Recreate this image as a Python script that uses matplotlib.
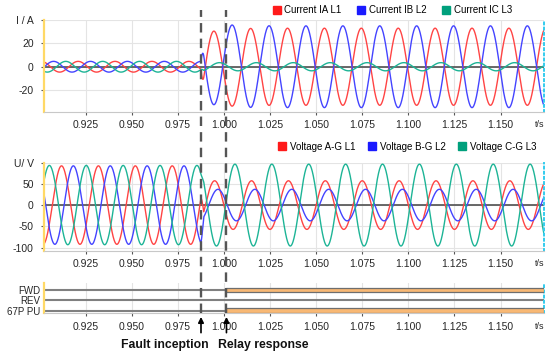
import numpy as np
import matplotlib
matplotlib.use('Agg')
import matplotlib.pyplot as plt
from matplotlib.lines import Line2D
from matplotlib.transforms import blended_transform_factory

plt.rcParams['font.family'] = ['Liberation Sans', 'DejaVu Sans']

# Time window and events (s)
t_start, t_end = 0.9025, 1.1735
t_fault = 0.9876
t_relay = 1.0014
freq = 50.0
blend = 0.0015  # transition at fault inception

# Currents (A): amplitude and time of a peak for IA, IB, IC
cur_names = ['Current IA L1', 'Current IB L2', 'Current IC L3']
cur_pre_amp = [4.6, 4.6, 4.6]
cur_pre_peak = [0.9810, 0.9877, 0.9943]
cur_post_amp = [33.0, 35.0, 3.5]
cur_post_peak = [1.0145, 1.0045, 1.0176]
cur_post_dc = [-6.0, 6.0, 0.0]
dc_tau = 0.008

# Voltages (V)
volt_names = ['Voltage A-G L1', 'Voltage B-G L2', 'Voltage C-G L3']
volt_pre_amp = [92.0, 92.0, 93.0]
volt_pre_peak = [0.9720, 0.9784, 0.9854]
volt_post_amp = [57.0, 37.0, 96.0]
volt_post_peak = [0.9950, 0.9968, 1.0060]

# Binary signals
status_names = ['67P PU', 'REV', 'FWD']
status_on = [t_relay, None, t_relay]

ticks = [0.925, 0.950, 0.975, 1.000, 1.025, 1.050, 1.075, 1.100, 1.125, 1.150]

line_colors = ['#ff4444', '#4444ff', '#1db496']
legend_colors = ['#ff1a1a', '#1a1aff', '#00a07c']


def wave(t, pre_amp, pre_peak, post_amp, post_peak, dc=0.0):
    w = 2 * np.pi * freq
    pre = pre_amp * np.cos(w * (t - pre_peak))
    post = post_amp * np.cos(w * (t - post_peak))
    post = post + dc * np.exp(-np.clip(t - t_fault, 0, None) / dc_tau)
    k = np.clip((t - t_fault) / blend, 0, 1)
    return (1 - k) * pre + k * post


t = np.linspace(t_start, t_end, 4000)

fig = plt.figure(figsize=(5.5, 3.56), dpi=100)
ax_i = fig.add_axes([0.08, 0.6862, 0.909, 0.2576])
ax_u = fig.add_axes([0.08, 0.2958, 0.909, 0.2455])
ax_s = fig.add_axes([0.08, 0.1200, 0.909, 0.0851])


def style_axis(ax):
    ax.set_xlim(t_start, t_end)
    ax.set_xticks(ticks)
    ax.set_xticklabels(['%.3f' % v for v in ticks])
    ax.grid(True, color='#e4e4e4', lw=0.8)
    ax.set_axisbelow(True)
    ax.spines['top'].set_visible(False)
    ax.spines['left'].set_color('#ffd966')
    ax.spines['left'].set_linewidth(1.6)
    ax.spines['right'].set_color('#33ccee')
    ax.spines['right'].set_linestyle(':')
    ax.spines['right'].set_linewidth(1.4)
    ax.spines['bottom'].set_color('#c8c8c8')
    ax.tick_params(axis='x', length=2.5, width=0.8, color='#555555', pad=3.5,
                   labelsize=7.5, labelcolor='#262626')
    ax.tick_params(axis='y', length=2.5, width=0.8, color='#555555', pad=5,
                   labelsize=7.5, labelcolor='#262626')
    ax.annotate('t/s', xy=(0.982, 0), xycoords='axes fraction', xytext=(0, -9.5),
                textcoords='offset points', ha='left', va='center', fontsize=6.5,
                color='#262626')


# Currents
for name, a0, p0, a1, p1, dc, c in zip(cur_names, cur_pre_amp, cur_pre_peak,
                                       cur_post_amp, cur_post_peak, cur_post_dc, line_colors):
    ax_i.plot(t, wave(t, a0, p0, a1, p1, dc), color=c, lw=1.0, label=name)
ax_i.axhline(0, color='#505050', lw=1.2, zorder=1.5)
ax_i.set_ylim(-38.5, 40)
ax_i.set_yticks([-20, 0, 20, 40])
ax_i.set_yticklabels(['-20', '0', '20', 'I / A'])
style_axis(ax_i)

# Voltages
for name, a0, p0, a1, p1, c in zip(volt_names, volt_pre_amp, volt_pre_peak,
                                   volt_post_amp, volt_post_peak, line_colors):
    ax_u.plot(t, wave(t, a0, p0, a1, p1), color=c, lw=1.0, label=name)
ax_u.axhline(0, color='#505050', lw=1.2, zorder=1.5)
ax_u.set_ylim(-107, 98)
ax_u.set_yticks([-100, -50, 0, 50, 98])
ax_u.set_yticklabels(['-100', '-50', '0', '50', 'U/ V'])
style_axis(ax_u)


def square_legend(ax, names, x, y, cspace):
    handles = [Line2D([], [], marker='s', ls='none', markersize=6,
                      markerfacecolor=c, markeredgecolor=c) for c in legend_colors]
    ax.legend(handles, names, loc='center right', bbox_to_anchor=(x, y),
              ncol=3, frameon=False, fontsize=7, handlelength=0.8,
              handletextpad=0.4, columnspacing=cspace, borderpad=0,
              borderaxespad=0)


square_legend(ax_i, cur_names, 0.936, 1.11, 1.6)
square_legend(ax_u, volt_names, 0.985, 1.19, 1.3)

# Status signals
for i, (name, on) in enumerate(zip(status_names, status_on)):
    ax_s.plot([t_start, t_end], [i, i], color='#808080', lw=1.5, zorder=2)
    if on is not None:
        ax_s.barh(i, t_end - on, left=on, height=0.46, color='#f8b874',
                  edgecolor='#6e6e6e', lw=0.9, zorder=3)
ax_s.set_ylim(-0.27, 2.7)
ax_s.set_yticks(range(len(status_names)))
ax_s.set_yticklabels(status_names)
style_axis(ax_s)
ax_s.grid(False, axis='y')
ax_s.tick_params(axis='y', length=0, pad=2.5, labelsize=7)

# Event markers across the whole figure
trans = blended_transform_factory(ax_i.transData, fig.transFigure)
for te in [t_fault, t_relay]:
    fig.add_artist(Line2D([te, te], [0.121, 0.972], transform=trans,
                          color='#555555', lw=1.7, ls=(0, (4, 2.6)), zorder=10))
    ax_s.annotate('', xy=(te, -0.12), xytext=(te, -0.64),
                  xycoords=('data', 'axes fraction'),
                  arrowprops=dict(arrowstyle='-|>', color='black', lw=1.2,
                                  mutation_scale=8, shrinkA=0, shrinkB=0))

ax_s.annotate('Fault inception', xy=(t_fault, -1.05), xycoords=('data', 'axes fraction'),
              xytext=(5.3, 0), textcoords='offset points', ha='right', va='center',
              fontsize=8.8, fontweight='bold', color='#111111')
ax_s.annotate('Relay response', xy=(t_relay, -1.05), xycoords=('data', 'axes fraction'),
              xytext=(-5.8, 0), textcoords='offset points', ha='left', va='center',
              fontsize=8.8, fontweight='bold', color='#111111')

fig.savefig('out.png', dpi=100)
